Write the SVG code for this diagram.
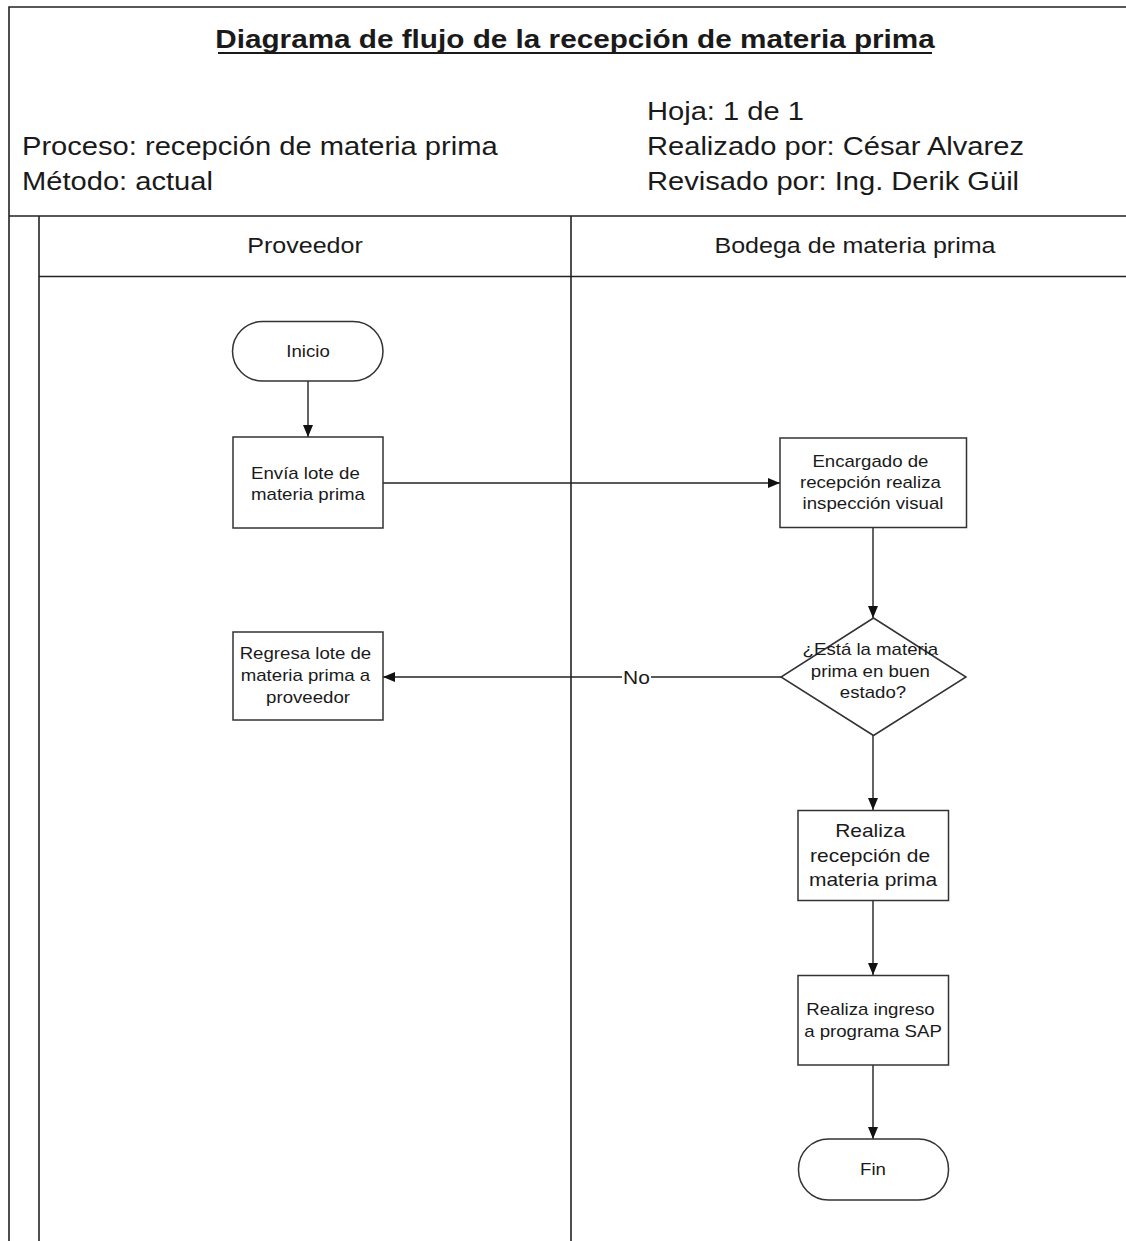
<svg xmlns="http://www.w3.org/2000/svg" width="1126" height="1241" viewBox="0 0 1126 1241">
  <defs>
    <marker id="arrow" viewBox="0 0 12 10" refX="12" refY="5" markerWidth="12" markerHeight="10" markerUnits="userSpaceOnUse" orient="auto">
      <path d="M0,0 L12,5 L0,10 Z" fill="#111"/>
    </marker>
    <style>
      text { font-family: "Liberation Sans", Arial, sans-serif; fill: #1a1a1a; }
      .frame { fill: none; stroke: #222; stroke-width: 1.6; }
      .shape { fill: #fff; stroke: #333; stroke-width: 1.5; }
      .conn { fill: none; stroke: #222; stroke-width: 1.4; }
      .title { font-size: 25.5px; font-weight: bold; }
      .info { font-size: 25px; }
      .lane { font-size: 21.5px; }
      .node { font-size: 16px; }
      .big { font-size: 18px; }
    </style>
  </defs>

  <rect width="1126" height="1241" fill="#fff"/>

  <!-- sheet frame and header -->
  <g id="frame">
    <path class="frame" d="M9,1241 V7 H1126"/>
    <line class="frame" x1="9" y1="216" x2="1126" y2="216"/>
    <line class="frame" x1="39" y1="216" x2="39" y2="1241"/>
    <line class="frame" x1="571" y1="216" x2="571" y2="1241"/>
    <line class="frame" x1="39" y1="276.5" x2="1126" y2="276.5" stroke-width="2"/>
  </g>

  <g id="header">
    <text class="title" transform="translate(575 48) scale(1.165 1)" text-anchor="middle">Diagrama de flujo de la recepción de materia prima</text>
    <line x1="218" y1="53" x2="932" y2="53" stroke="#1a1a1a" stroke-width="2"/>
    <text class="info" transform="translate(22 155) scale(1.165 1)">Proceso: recepción de materia prima</text>
    <text class="info" transform="translate(22 190) scale(1.165 1)">Método: actual</text>
    <text class="info" transform="translate(647 120) scale(1.165 1)">Hoja: 1 de 1</text>
    <text class="info" transform="translate(647 155) scale(1.165 1)">Realizado por: César Alvarez</text>
    <text class="info" transform="translate(647 190) scale(1.165 1)">Revisado por: Ing. Derik Güil</text>
  </g>

  <!-- swimlane titles -->
  <g id="lane-proveedor">
    <text class="lane" transform="translate(305 253) scale(1.165 1)" text-anchor="middle">Proveedor</text>
  </g>
  <g id="lane-bodega">
    <text class="lane" transform="translate(855 253) scale(1.165 1)" text-anchor="middle">Bodega de materia prima</text>
  </g>

  <!-- connectors -->
  <g id="connectors">
    <line class="conn" x1="308" y1="381" x2="308" y2="437" marker-end="url(#arrow)"/>
    <line class="conn" x1="383" y1="483" x2="780" y2="483" marker-end="url(#arrow)"/>
    <line class="conn" x1="873" y1="528" x2="873" y2="618" marker-end="url(#arrow)"/>
    <line class="conn" x1="781" y1="677" x2="651" y2="677"/>
    <line class="conn" x1="622" y1="677" x2="383" y2="677" marker-end="url(#arrow)"/>
    <text transform="translate(636.5 683.5) scale(1.165 1)" text-anchor="middle" font-size="18">No</text>
    <line class="conn" x1="873" y1="735" x2="873" y2="810" marker-end="url(#arrow)"/>
    <line class="conn" x1="873" y1="900" x2="873" y2="975" marker-end="url(#arrow)"/>
    <line class="conn" x1="873" y1="1065" x2="873" y2="1139" marker-end="url(#arrow)"/>
  </g>

  <!-- nodes -->
  <g id="inicio">
    <rect class="shape" x="232.5" y="321.5" width="150.5" height="59.5" rx="30" ry="30"/>
    <text class="node" transform="translate(308 357) scale(1.165 1)" text-anchor="middle">Inicio</text>
  </g>

  <g id="envia-lote">
    <rect class="shape" x="233" y="437" width="150" height="91"/>
    <text class="node" transform="translate(308 479) scale(1.165 1)" text-anchor="middle">
      <tspan x="0" y="0">Envía lote de</tspan>
      <tspan x="0" y="21">materia prima</tspan>
    </text>
  </g>

  <g id="inspeccion">
    <rect class="shape" x="780" y="438" width="186.5" height="89.5"/>
    <text class="node" transform="translate(873 466.5) scale(1.165 1)" text-anchor="middle">
      <tspan x="0" y="0">Encargado de</tspan>
      <tspan x="0" y="21.5">recepción realiza</tspan>
      <tspan x="0" y="43">inspección visual</tspan>
    </text>
  </g>

  <g id="decision">
    <polygon class="shape" points="873.5,618 966,677 873.5,735.5 781,677"/>
    <text class="node" transform="translate(873 655) scale(1.165 1)" text-anchor="middle" font-size="16.5">
      <tspan x="0" y="0">¿Está la materia</tspan>
      <tspan x="0" y="22">prima en buen</tspan>
      <tspan x="0" y="43.5">estado?</tspan>
    </text>
  </g>

  <g id="regresa-lote">
    <rect class="shape" x="233" y="632" width="150" height="88"/>
    <text class="node" transform="translate(308 659) scale(1.165 1)" text-anchor="middle">
      <tspan x="0" y="0">Regresa lote de</tspan>
      <tspan x="0" y="22">materia prima a</tspan>
      <tspan x="0" y="44">proveedor</tspan>
    </text>
  </g>

  <g id="recepcion">
    <rect class="shape" x="798" y="810.5" width="150.5" height="90"/>
    <text class="big" transform="translate(873 837) scale(1.165 1)" text-anchor="middle">
      <tspan x="0" y="0">Realiza</tspan>
      <tspan x="0" y="25">recepción de</tspan>
      <tspan x="0" y="49.5">materia prima</tspan>
    </text>
  </g>

  <g id="ingreso-sap">
    <rect class="shape" x="798" y="975.5" width="150.5" height="89.5"/>
    <text class="node" transform="translate(873 1015) scale(1.165 1)" text-anchor="middle">
      <tspan x="0" y="0">Realiza ingreso</tspan>
      <tspan x="0" y="22">a programa SAP</tspan>
    </text>
  </g>

  <g id="fin">
    <rect class="shape" x="798.5" y="1139" width="150" height="61" rx="30" ry="30"/>
    <text class="node" transform="translate(873 1175) scale(1.165 1)" text-anchor="middle">Fin</text>
  </g>
</svg>
